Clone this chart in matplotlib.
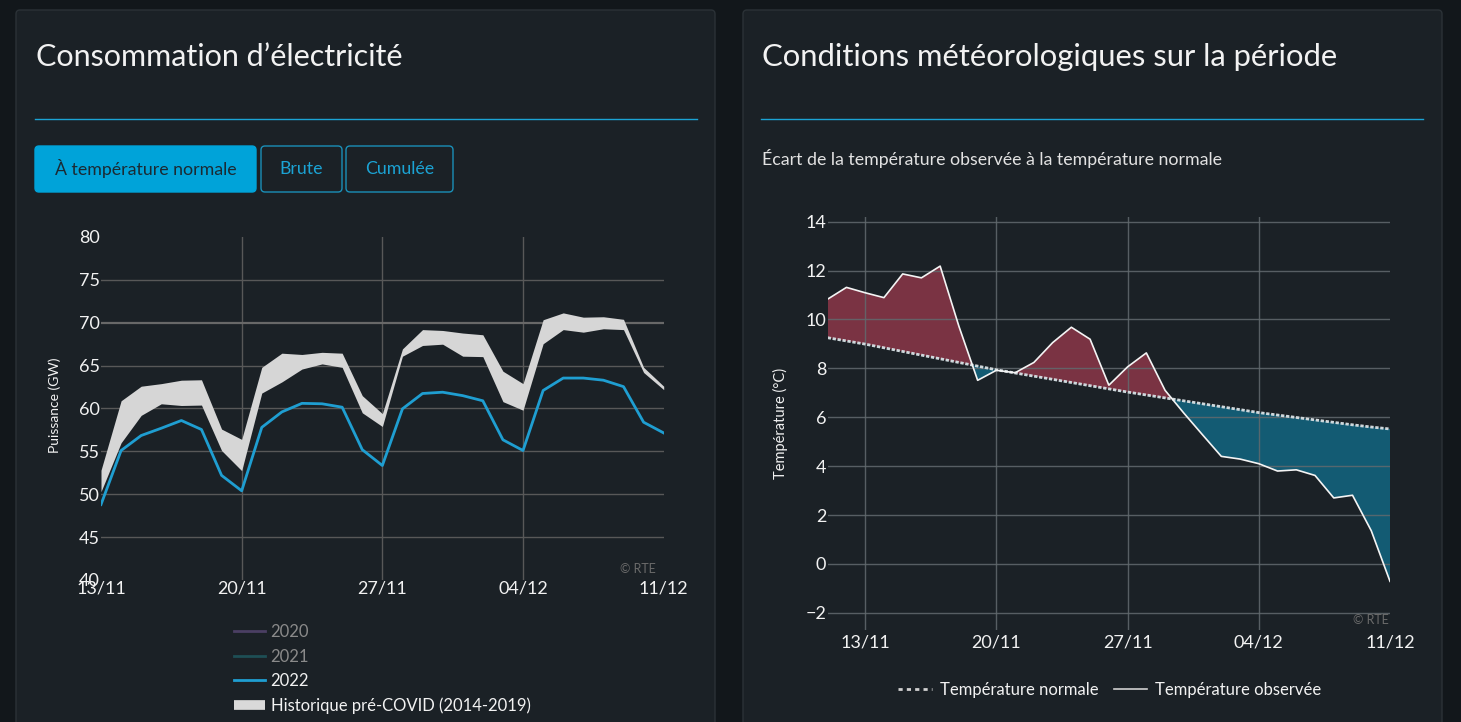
import numpy as np
import matplotlib
matplotlib.use("Agg")
import matplotlib.pyplot as plt
import matplotlib.dates as mdates
from matplotlib.patches import FancyBboxPatch
from matplotlib.lines import Line2D

plt.rcParams['font.family'] = ['Lato', 'DejaVu Sans']

# --- données ---
jours_conso = np.arange('2022-11-13', '2022-12-12', dtype='datetime64[D]')
conso_2022 = [48.8, 55.1, 56.85, 57.7, 58.6, 57.55, 52.2, 50.4, 57.8, 59.6,
              60.6, 60.55, 60.15, 55.2, 53.35, 59.96, 61.75, 61.9, 61.5, 60.9,
              56.35, 55.1, 62.1, 63.55, 63.55, 63.3, 62.55, 58.4, 57.15]
histo_haut = [52.8, 60.9, 62.6, 62.9, 63.3, 63.35, 57.6, 56.4, 64.8, 66.45,
              66.3, 66.55, 66.45, 61.5, 59.4, 66.95, 69.2, 69.1, 68.8, 68.6,
              64.35, 62.9, 70.35, 71.15, 70.65, 70.7, 70.4, 64.8, 62.6]
histo_bas = [50.3, 56.0, 59.2, 60.55, 60.35, 60.4, 55.1, 52.75, 61.8, 63.1,
             64.6, 65.2, 64.8, 59.5, 57.9, 66.1, 67.35, 67.5, 66.1, 66.05,
             60.8, 59.8, 67.55, 69.2, 68.9, 69.3, 69.2, 64.2, 62.2]

jours_meteo = np.arange('2022-11-11', '2022-12-12', dtype='datetime64[D]')
temp_normale = [9.25, 9.12, 8.99, 8.84, 8.69, 8.54, 8.39, 8.24, 8.09, 7.94,
                7.81, 7.68, 7.55, 7.42, 7.29, 7.16, 7.03, 6.91, 6.79, 6.67,
                6.55, 6.43, 6.31, 6.19, 6.09, 5.99, 5.89, 5.79, 5.69, 5.60, 5.52]
temp_observee = [10.83, 11.31, 11.09, 10.89, 11.86, 11.70, 12.18, 9.72, 7.51, 7.92,
                 7.82, 8.24, 9.05, 9.68, 9.19, 7.31, 8.06, 8.63, 7.10, 6.17,
                 5.28, 4.40, 4.29, 4.10, 3.80, 3.85, 3.62, 2.70, 2.81, 1.36, -0.71]

ticks_dates = np.array(['2022-11-13', '2022-11-20', '2022-11-27', '2022-12-04', '2022-12-11'],
                       dtype='datetime64[D]')
boutons = ["À température normale", "Brute", "Cumulée"]
legende_annees = ["2020", "2021", "2022", "Historique pré-COVID (2014-2019)"]

# --- couleurs ---
fond_page = '#12171b'
fond_panneau = '#1b2126'
cyan = '#1ba3d4'
grille = '#585858'
blanc = '#f2f2f2'

W, H = 1461, 722
fig = plt.figure(figsize=(W / 100, H / 100), dpi=100, facecolor=fond_page)


def fx(x):
    return x / W


def fy(y):
    return 1 - y / H


def boite(x0, y0, x1, y1, z=-1, **kw):
    # rectangle arrondi en pixels (origine en haut à gauche)
    p = FancyBboxPatch((x0 / 100, (H - y1) / 100), (x1 - x0) / 100, (y1 - y0) / 100,
                       boxstyle="round,pad=0,rounding_size=0.04",
                       transform=fig.dpi_scale_trans, zorder=z, **kw)
    fig.add_artist(p)
    return p


# panneaux
boite(16, 10, 715, 740, z=-5, facecolor=fond_panneau, edgecolor='#2b3237', linewidth=1)
boite(743, 10, 1442, 740, z=-5, facecolor=fond_panneau, edgecolor='#2b3237', linewidth=1)

# titres + séparateurs
fig.text(fx(36), fy(57), "Consommation d’électricité", color=blanc, fontsize=22,
         va='center', ha='left')
fig.text(fx(762), fy(57), "Conditions météorologiques sur la période", color=blanc,
         fontsize=22.3, va='center', ha='left')
fig.add_artist(Line2D([fx(35), fx(697)], [fy(119), fy(119)], color=cyan, lw=1))
fig.add_artist(Line2D([fx(761), fx(1423)], [fy(119), fy(119)], color=cyan, lw=1))

# boutons
positions_boutons = [(35, 256), (261, 342), (346, 453)]
for i, (lab, (x0, x1)) in enumerate(zip(boutons, positions_boutons)):
    if i == 0:
        boite(x0, 146, x1, 192, facecolor='#00a3d9', edgecolor='#00a3d9', linewidth=1)
        col = '#1b2a33'
    else:
        boite(x0, 146, x1, 192, facecolor='none', edgecolor='#1a8fb8', linewidth=1)
        col = cyan
    fig.text(fx((x0 + x1) / 2), fy(169), lab, color=col, fontsize=12.8,
             ha='center', va='center')

fig.text(fx(762), fy(158), "Écart de la température observée à la température normale",
         color='#e2e2e2', fontsize=12.8, ha='left', va='center')

# --- graphique consommation ---
ax1 = fig.add_axes([fx(101), fy(580), (663.7 - 101) / W, (580 - 237) / H])
ax1.set_facecolor(fond_panneau)
ax1.fill_between(jours_conso, histo_bas, histo_haut, color='#d6d6d6', lw=0, zorder=3)
ax1.plot(jours_conso, conso_2022, color='#1f9ed1', lw=2, zorder=4)
ax1.set_xlim(jours_conso[0], jours_conso[-1])
ax1.set_ylim(40, 80)
ax1.set_yticks(np.arange(40, 81, 5))
ax1.set_xticks(ticks_dates)
ax1.xaxis.set_major_formatter(mdates.DateFormatter('%d/%m'))
ax1.grid(True, color=grille, lw=1, zorder=0)
for gl in ax1.get_xgridlines()[::len(ticks_dates) - 1]:
    gl.set_visible(False)
for gl in (ax1.get_ygridlines()[0], ax1.get_ygridlines()[-1]):
    gl.set_visible(False)
ax1.get_ygridlines()[6].set_color('#686868')
ax1.get_ygridlines()[6].set_linewidth(1.6)
ax1.tick_params(length=0, colors=blanc, labelsize=13)
ax1.tick_params(axis='y', pad=1)
ax1.tick_params(axis='x', pad=0)
for s in ax1.spines.values():
    s.set_visible(False)
fig.text(fx(55), fy(405), "Puissance (GW)", rotation=90, color=blanc, fontsize=10,
         ha='center', va='center')
fig.text(fx(656), fy(569), "© RTE", color='#6a6a6a', fontsize=9, ha='right', va='center')

poignees = [Line2D([], [], color='#4b3f63', lw=2),
            Line2D([], [], color='#1e4f55', lw=2),
            Line2D([], [], color='#1f9ed1', lw=2),
            Line2D([], [], color='#d9d9d9', lw=7, solid_capstyle='butt')]
leg1 = fig.legend(poignees, legende_annees, loc='center left',
                  bbox_to_anchor=(fx(219), fy(669)), frameon=False, fontsize=12,
                  handlelength=1.85, handletextpad=0.35, labelspacing=0.5)
for txt, c in zip(leg1.get_texts(), ['#8a8a8a', '#8a8a8a', blanc, blanc]):
    txt.set_color(c)

# --- graphique météo ---
ax2 = fig.add_axes([fx(827.7), fy(630), (1390 - 827.7) / W, (630 - 216.7) / H])
ax2.set_facecolor(fond_panneau)
obs = np.array(temp_observee)
nor = np.array(temp_normale)
ax2.fill_between(jours_meteo, nor, obs, where=obs >= nor, interpolate=True,
                 color='#7a3343', lw=0, zorder=2)
ax2.fill_between(jours_meteo, nor, obs, where=obs < nor, interpolate=True,
                 color='#135b73', lw=0, zorder=2)
ax2.plot(jours_meteo, nor, color='#cfd8dc', lw=2, ls=(0, (1.2, 0.6)), zorder=3)
ax2.plot(jours_meteo, obs, color='#f4f4f4', lw=1.2, zorder=4)
ax2.set_xlim(jours_meteo[0], jours_meteo[-1])
ax2.set_ylim(-2.7, 14.2)
ax2.set_yticks(np.arange(-2, 15, 2))
ax2.set_yticklabels([f"{v}".replace('-', '−') for v in range(-2, 15, 2)])
ax2.set_xticks(ticks_dates)
ax2.xaxis.set_major_formatter(mdates.DateFormatter('%d/%m'))
ax2.grid(True, color='#626a6e', lw=1, alpha=0.85)
ax2.set_axisbelow(False)
ax2.get_xgridlines()[-1].set_visible(False)
ax2.tick_params(length=0, colors=blanc, labelsize=13)
ax2.tick_params(axis='y', pad=1)
ax2.tick_params(axis='x', pad=3)
for s in ax2.spines.values():
    s.set_visible(False)
fig.text(fx(780), fy(423), "Température (°C)", rotation=90, color=blanc, fontsize=10.5,
         ha='center', va='center')
fig.text(fx(1389), fy(620), "© RTE", color='#6a6a6a', fontsize=9, ha='right', va='center')

poignees2 = [Line2D([], [], color='#d0d0d0', lw=2, ls=(0, (1.5, 1.5))),
             Line2D([], [], color='#d0d0d0', lw=1.2)]
leg2 = fig.legend(poignees2, ["Température normale", "Température observée"],
                  loc='center', bbox_to_anchor=(fx(1110), fy(690)), ncol=2,
                  frameon=False, fontsize=12, handlelength=2.0, handletextpad=0.5,
                  columnspacing=0.9)
for txt in leg2.get_texts():
    txt.set_color(blanc)

fig.savefig("out.png", dpi=100, facecolor=fond_page)
